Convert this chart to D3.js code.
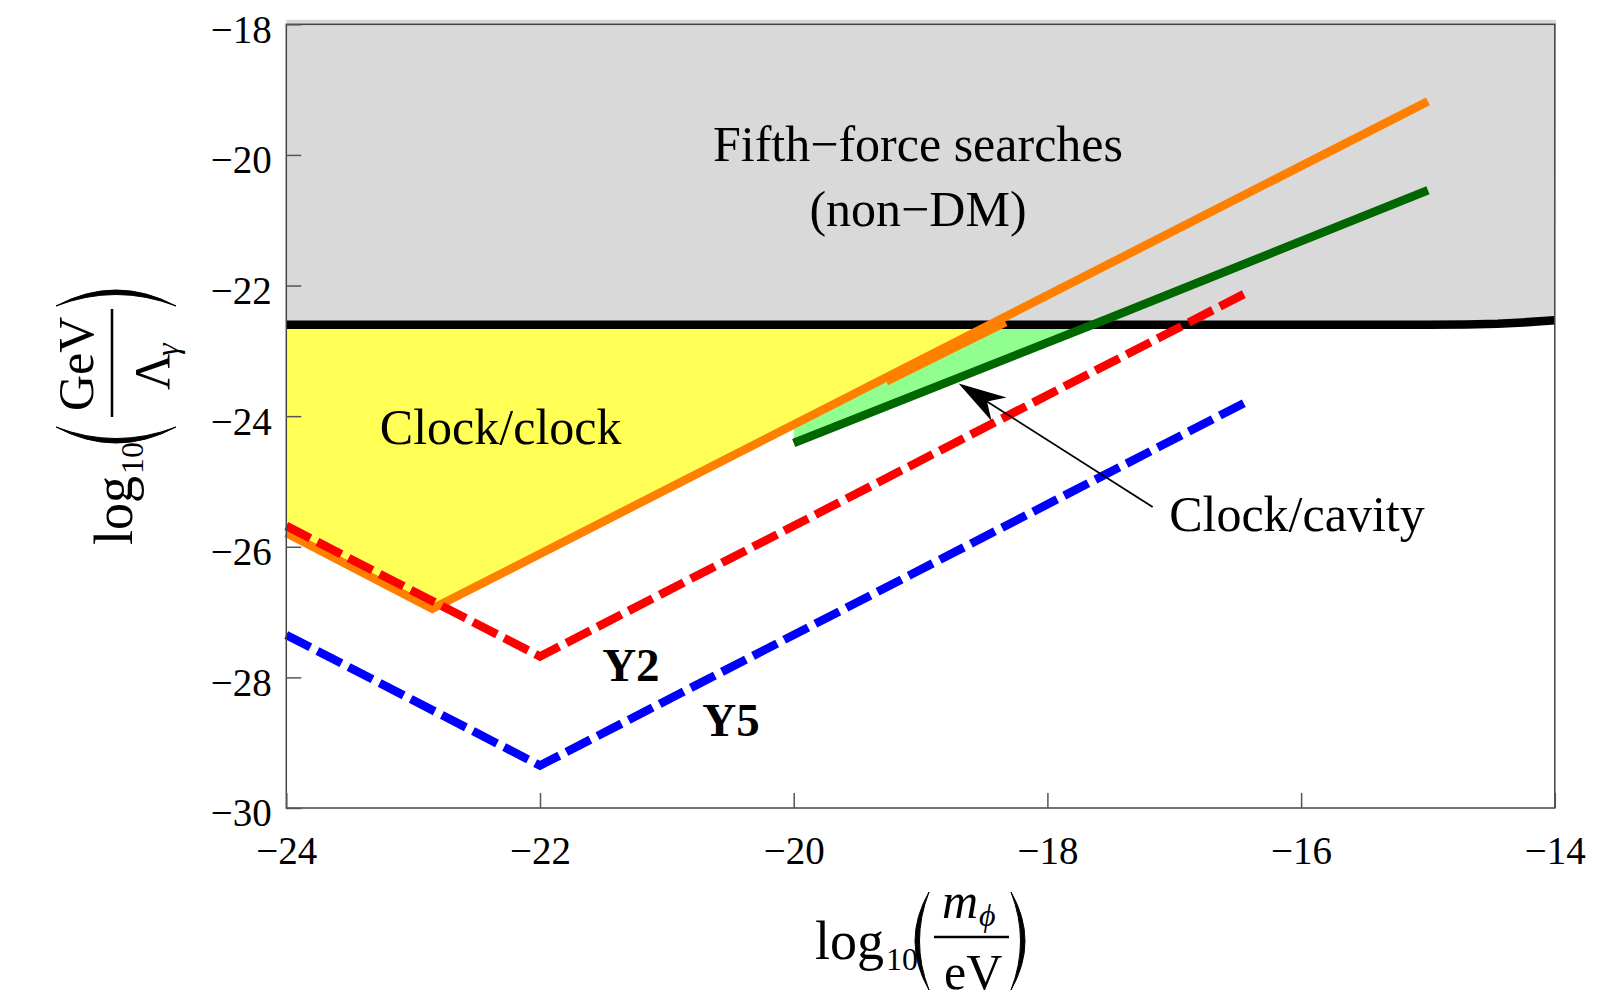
<!DOCTYPE html>
<html>
<head>
<meta charset="utf-8">
<script src="https://cdn.jsdelivr.net/npm/d3@7"></script>
<style>
  body { margin: 0; background: #fff; }
  text { font-family: "Liberation Serif", "Times New Roman", serif; fill: #000; }
</style>
</head>
<body>
<script>
// axis ticks
const xMajor = [-24, -22, -20, -18, -16, -14];
const yMajor = [-30, -28, -26, -24, -22, -20, -18];
const xMinor = d3.range(-24, -14.01, 0.5).filter((v) => !xMajor.includes(v));
const yMinor = d3.range(-30, -17.99, 0.5).filter((v) => !yMajor.includes(v));

// fifth-force boundary (black)
const boundX = [-24, -15, -14.7, -14.45, -14.25, -14];
const boundY = [-22.6, -22.6, -22.597, -22.585, -22.565, -22.53];

// clock/clock (orange), clock/cavity (green), Y2 (red), Y5 (blue)
const orangeX = [-24, -22.85, -15];
const orangeY = [-25.79, -26.95, -19.18];
const orange2X = [-19.27, -18.33];
const orange2Y = [-23.47, -22.56];
const greenX = [-20, -17.5, -15];
const greenY = [-24.41, -22.49, -20.54];
const redX = [-24, -22, -16.45];
const redY = [-25.68, -27.68, -22.13];
const blueX = [-24, -22, -16.45];
const blueY = [-27.35, -29.35, -23.8];

// annotation arrow (data coords)
const arrowFrom = [-17.17, -25.39];
const arrowTo = [-18.7, -23.5];

const width = 1613;
const height = 1001;

const x = d3.scaleLinear().domain([-24, -14]).range([286.3, 1554.8]);
const y = d3.scaleLinear().domain([-30, -18]).range([808, 24.3]);

const svg = d3
  .select("body")
  .append("svg")
  .attr("width", width)
  .attr("height", height);

const line = d3
  .line()
  .x((d) => x(d[0]))
  .y((d) => y(d[1]));

function interp(xs, ys, xv) {
  for (let i = 0; i < xs.length - 1; i++) {
    if (xv >= xs[i] && xv <= xs[i + 1]) {
      const t = (xv - xs[i]) / (xs[i + 1] - xs[i]);
      return ys[i] + t * (ys[i + 1] - ys[i]);
    }
  }
  return ys[ys.length - 1];
}

// x where a rising segment of a curve reaches level yv (search from the right)
function crossX(xs, ys, yv) {
  for (let i = xs.length - 2; i >= 0; i--) {
    const a = ys[i], b = ys[i + 1];
    if ((yv - a) * (yv - b) <= 0 && a !== b) {
      return xs[i] + ((yv - a) / (b - a)) * (xs[i + 1] - xs[i]);
    }
  }
  return xs[0];
}

const level = boundY[0];

// gray region (non-DM fifth force)
const grayPts = [[-24, -17.93], [-13.99, -17.93]]
  .concat(d3.zip(boundX, boundY).reverse());
svg.append("path")
  .attr("d", line(grayPts) + "Z")
  .attr("fill", "#d9d9d9");

// yellow region (clock/clock)
const xo = crossX(orangeX, orangeY, level);
const yellowPts = [[-24, level], [-24, orangeY[0]], [orangeX[1], orangeY[1]], [xo, level]];
svg.append("path")
  .attr("d", line(yellowPts) + "Z")
  .attr("fill", "#ffff55");

// light green region (clock/cavity)
const xg = crossX(greenX, greenY, level);
const greenPts = [[greenX[0], interp(orangeX, orangeY, greenX[0])], [xo, level], [xg, level]]
  .concat(d3.zip(greenX, greenY).filter((d) => d[0] < xg).reverse());
svg.append("path")
  .attr("d", line(greenPts) + "Z")
  .attr("fill", "#90ff90");

// boundary line
svg.append("path")
  .attr("d", line(d3.zip(boundX, boundY)))
  .attr("fill", "none")
  .attr("stroke", "#000")
  .attr("stroke-width", 8.5);

const curves = [
  { xs: orangeX, ys: orangeY, color: "#ff8000", dash: null },
  { xs: orange2X, ys: orange2Y, color: "#ff8000", dash: null },
  { xs: greenX, ys: greenY, color: "#006600", dash: null },
  { xs: redX, ys: redY, color: "#ff0000", dash: "27,8" },
  { xs: blueX, ys: blueY, color: "#0000ff", dash: "27,8" },
];

svg.append("g")
  .selectAll("path")
  .data(curves)
  .join("path")
  .attr("d", (d) => line(d3.zip(d.xs, d.ys)))
  .attr("fill", "none")
  .attr("stroke", (d) => d.color)
  .attr("stroke-width", 8.5)
  .attr("stroke-linejoin", "miter")
  .attr("stroke-dasharray", (d) => d.dash);

// arrow
{
  const [tx, ty] = [x(arrowTo[0]), y(arrowTo[1])];
  const [fx, fy] = [x(arrowFrom[0]), y(arrowFrom[1])];
  const len = Math.hypot(tx - fx, ty - fy);
  const ux = (tx - fx) / len, uy = (ty - fy) / len;
  const nx = -uy, ny = ux;
  const L = 48, W = 14, notch = 0.7 * L;
  svg.append("line")
    .attr("x1", fx).attr("y1", fy)
    .attr("x2", tx - ux * notch).attr("y2", ty - uy * notch)
    .attr("stroke", "#000")
    .attr("stroke-width", 1.8);
  svg.append("path")
    .attr("d", d3.line()([
      [tx, ty],
      [tx - ux * L + nx * W, ty - uy * L + ny * W],
      [tx - ux * notch, ty - uy * notch],
      [tx - ux * L - nx * W, ty - uy * L - ny * W],
    ]) + "Z")
    .attr("fill", "#000");
}

// frame
svg.append("rect")
  .attr("x", x(-24)).attr("y", y(-18))
  .attr("width", x(-14) - x(-24)).attr("height", y(-30) - y(-18))
  .attr("fill", "none")
  .attr("stroke", "#444")
  .attr("stroke-width", 1.5);

// ticks
const tickColor = "#555";
const fmt = (d) => d3.format("")(d).replace("-", "−");
const gx = svg.append("g").attr("transform", `translate(0,${y(-30)})`);
gx.call(d3.axisBottom(x).tickValues(xMinor).tickSize(-9).tickFormat(""));
gx.call(d3.axisBottom(x).tickValues(xMajor).tickSize(-15).tickFormat(fmt));
gx.selectAll(".domain").remove();
gx.selectAll("line").attr("stroke", tickColor).attr("stroke-width", 1.5);
gx.selectAll("text")
  .attr("y", 56).attr("dy", null)
  .style("font-family", "Liberation Serif, serif")
  .style("font-size", "39px");

const gy = svg.append("g").attr("transform", `translate(${x(-24)},0)`);
gy.call(d3.axisLeft(y).tickValues(yMinor).tickSize(-9).tickFormat(""));
gy.call(d3.axisLeft(y).tickValues(yMajor).tickSize(-15).tickPadding(14.6).tickFormat(fmt));
gy.selectAll(".domain").remove();
gy.selectAll("line").attr("stroke", tickColor).attr("stroke-width", 1.5);
gy.selectAll("text")
  .attr("dy", "0.46em")
  .style("font-family", "Liberation Serif, serif")
  .style("font-size", "39px");

// in-plot labels
const labels = svg.append("g").style("font-size", "50px");
labels.append("text")
  .attr("x", x(-19.02)).attr("y", y(-20.1))
  .attr("text-anchor", "middle")
  .text("Fifth−force searches");
labels.append("text")
  .attr("x", x(-19.02)).attr("y", y(-21.09))
  .attr("text-anchor", "middle")
  .text("(non−DM)");
labels.append("text")
  .attr("x", x(-22.31)).attr("y", y(-24.42))
  .attr("text-anchor", "middle")
  .text("Clock/clock");
labels.append("text")
  .attr("x", x(-17.04)).attr("y", y(-25.76))
  .text("Clock/cavity");
labels.append("text")
  .attr("x", x(-21.51)).attr("y", y(-28.05))
  .style("font-weight", "bold").style("font-size", "47px")
  .text("Y2");
labels.append("text")
  .attr("x", x(-20.72)).attr("y", y(-28.9))
  .style("font-weight", "bold").style("font-size", "47px")
  .text("Y5");

// tall parenthesis as filled crescent
function paren(g, xl, xr, top, bottom, open) {
  const mid = (top + bottom) / 2;
  let a, b, edge;
  if (open) {
    edge = xr;
    a = 2 * xl - xr;
    b = a + 9;
  } else {
    edge = xl;
    a = 2 * xr - xl;
    b = a - 9;
  }
  g.append("path")
    .attr("d", `M${edge},${top} Q${a},${mid} ${edge},${bottom} Q${b},${mid} ${edge},${top}Z`)
    .attr("fill", "#000")
    .attr("stroke", "#000")
    .attr("stroke-width", 1);
}

// x axis title: log10(m_phi / eV)
{
  const g = svg.append("g");
  g.append("text").attr("x", 815).attr("y", 959).style("font-size", "54px").text("log");
  g.append("text").attr("x", 886).attr("y", 970).style("font-size", "32px").text("10");
  paren(g, 915, 929, 892, 990, true);
  g.append("text").attr("x", 942).attr("y", 918).style("font-size", "50px").style("font-style", "italic").text("m");
  g.append("text").attr("x", 979).attr("y", 926).style("font-size", "32px").style("font-style", "italic").text("ϕ");
  g.append("line").attr("x1", 934).attr("x2", 1009).attr("y1", 937).attr("y2", 937)
    .attr("stroke", "#000").attr("stroke-width", 2.5);
  g.append("text").attr("x", 944).attr("y", 989).style("font-size", "50px").text("eV");
  paren(g, 1011, 1025, 892, 990, false);
}

// y axis title: log10(GeV / Lambda_gamma), rotated
{
  const g = svg.append("g").attr("transform", "translate(132,545) rotate(-90)");
  g.append("text").attr("x", 0).attr("y", 0).style("font-size", "54px").text("log");
  g.append("text").attr("x", 71).attr("y", 11).style("font-size", "32px").text("10");
  paren(g, 102, 118, -76, 44, true);
  g.append("text").attr("x", 134).attr("y", -39).style("font-size", "50px").text("GeV");
  g.append("line").attr("x1", 128).attr("x2", 236).attr("y1", -20).attr("y2", -20)
    .attr("stroke", "#000").attr("stroke-width", 2.5);
  g.append("text").attr("x", 155).attr("y", 37).style("font-size", "50px").text("Λ");
  g.append("text").attr("x", 189).attr("y", 46).style("font-size", "32px").style("font-style", "italic").text("γ");
  paren(g, 239, 255, -76, 44, false);
}
</script>
</body>
</html>
